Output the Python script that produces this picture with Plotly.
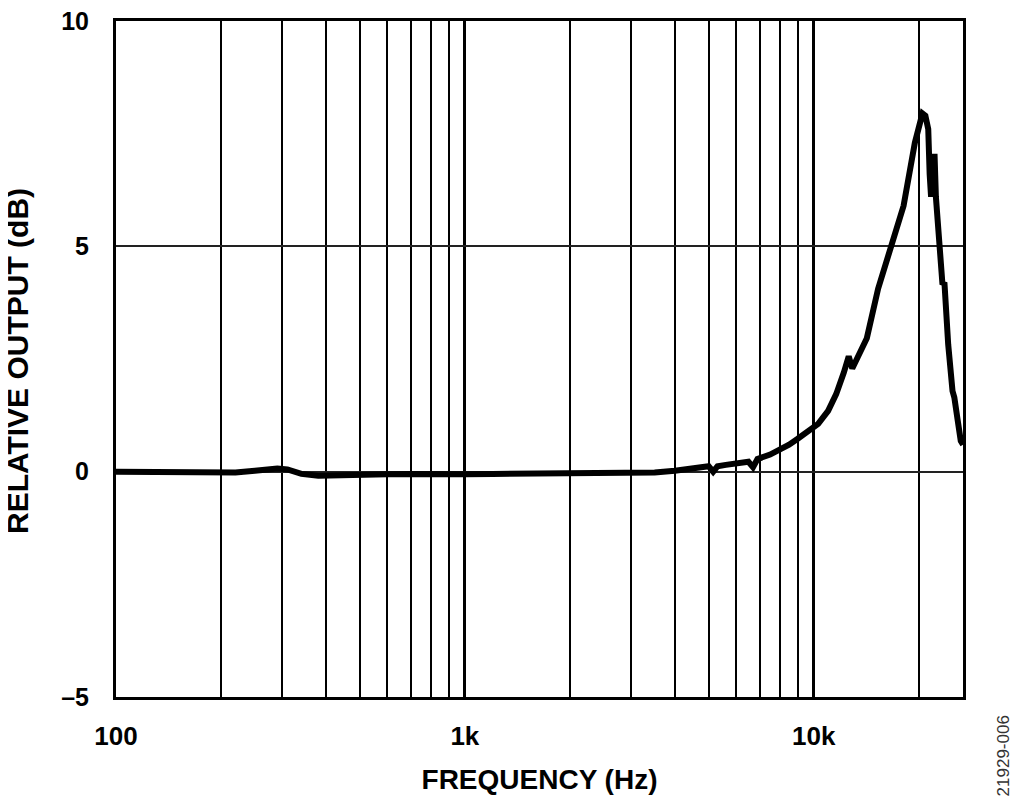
import plotly.graph_objects as go

# frequency response
freq = [100, 120, 150, 200, 220, 250, 290, 310, 340, 380, 420, 500, 600, 700,
        800, 900, 1000, 1200, 1500, 2000, 2500, 3000, 3500, 4000, 4500, 5000,
        5150, 5300, 5600, 6000, 6500, 6700, 6900, 7500, 8000, 8500, 9000,
        9500, 10000, 10300, 11000, 11600, 12200, 12600, 12900, 13500, 14200,
        15300, 16700, 18100, 19500, 20000, 20500, 20900, 21300, 21500, 21700,
        22000, 22200, 22400, 23000, 23400, 23700, 24000, 24300, 25000, 25300,
        25800, 26400, 26800]
rel_db = [0.0, 0.0, -0.01, 0.0, -0.02, 0.02, 0.07, 0.05, -0.05, -0.09, -0.09,
          -0.07, -0.06, -0.05, -0.06, -0.05, -0.06, -0.05, -0.05, -0.05, -0.05,
          -0.04, -0.02, 0.02, 0.07, 0.12, 0.0, 0.12, 0.15, 0.18, 0.22, 0.1,
          0.28, 0.38, 0.48, 0.6, 0.73, 0.87, 1.0, 1.06, 1.35, 1.72, 2.2, 2.56,
          2.29, 2.6, 2.96, 4.06, 5.03, 5.9, 7.3, 7.7, 7.95, 7.9, 7.6, 6.6, 6.1,
          6.8, 7.05, 6.1, 5.1, 4.15, 4.2, 3.5, 2.82, 1.79, 1.65, 1.2, 0.68, 0.6]

x_ticks = [100, 1000, 10000]
x_labels = ["100", "1k", "10k"]
x_minor = [200, 300, 400, 500, 600, 700, 800, 900,
           2000, 3000, 4000, 5000, 6000, 7000, 8000, 9000, 20000]
y_ticks = [-5, 0, 5, 10]
y_labels = ["–5", "0", "5", "10"]

font = "Liberation Sans, Arial, sans-serif"

fig = go.Figure()
fig.add_trace(go.Scatter(x=freq, y=rel_db, mode="lines",
                         line=dict(color="black", width=6),
                         showlegend=False, hoverinfo="skip"))

fig.update_layout(
    width=1024, height=807,
    margin=dict(l=108, r=69, t=13, b=118, autoexpand=False),
    paper_bgcolor="white", plot_bgcolor="white",
    font=dict(family=font, color="black", size=24),
)
fig.update_xaxes(
    type="log", range=[2, 4.428], automargin=False,
    tickvals=x_ticks, ticktext=x_labels, ticklabeloverflow="allow",
    tickfont=dict(family=font, size=26, color="black", weight="bold"),
    ticks="", ticklabelstandoff=14,
    showgrid=True, gridcolor="black", gridwidth=2.5,
    minor=dict(tickvals=x_minor, showgrid=True, gridcolor="black",
               gridwidth=2, ticks=""),
    showline=True, linecolor="black", linewidth=3, mirror=True,
    zeroline=False,
    title=dict(text="<b>FREQUENCY (Hz)</b>", standoff=20,
               font=dict(family=font, size=28, color="black")),
)
fig.update_yaxes(
    range=[-5, 10], tickvals=y_ticks, ticktext=y_labels, automargin=False,
    ticklabeloverflow="allow",
    tickfont=dict(family=font, size=25, color="black", weight="bold"),
    ticks="", ticklabelstandoff=19,
    showgrid=True, gridcolor="#222222", gridwidth=2,
    showline=True, linecolor="black", linewidth=3, mirror=True,
    zeroline=False,
)

# y axis title as an annotation so it can sit nearer the page edge
fig.add_annotation(text="<b>RELATIVE OUTPUT (dB)</b>", xref="paper", yref="paper",
                   x=0, xanchor="center", xshift=-99, y=0.5, yanchor="middle",
                   yshift=-2, textangle=-90, showarrow=False,
                   font=dict(family=font, size=30, color="black"))

fig.add_annotation(text="21929-006", xref="paper", yref="paper",
                   x=1.0, xshift=52, y=-0.15, textangle=-90,
                   showarrow=False,
                   font=dict(family=font, size=17, color="#333333"))

fig.write_html("out.html")
